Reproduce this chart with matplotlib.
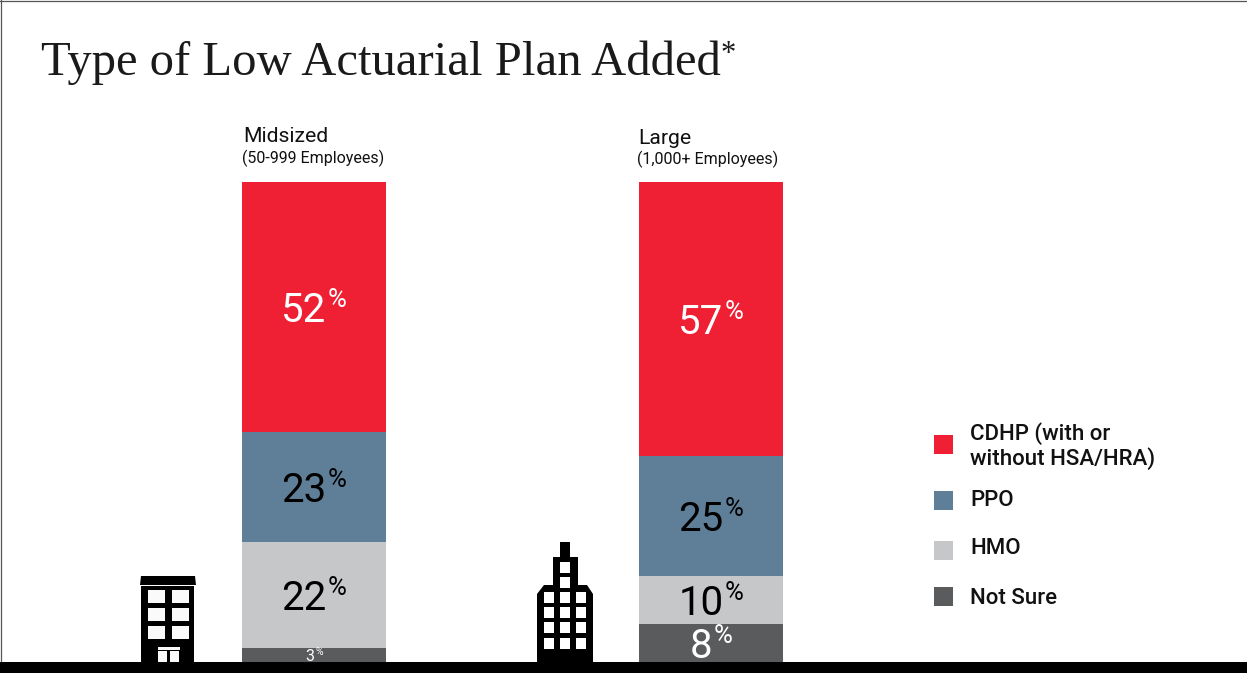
import matplotlib
matplotlib.use("Agg")
import matplotlib.pyplot as plt
from matplotlib.patches import Polygon, Rectangle

W, H = 1247, 673

groups = ["Midsized", "Large"]
group_notes = ["(50-999 Employees)", "(1,000+ Employees)"]
plan_types = ["Not Sure", "HMO", "PPO", "CDHP"]
not_sure = [3, 8]
hmo = [22, 10]
ppo = [23, 25]
cdhp = [52, 57]
legend_labels = ["CDHP (with or\nwithout HSA/HRA)", "PPO", "HMO", "Not Sure"]

RED = "#EF1F34"
BLUE = "#5F7F99"
LIGHT = "#C6C7C9"
DARK = "#5A5B5D"

plt.rcParams["font.family"] = ["Roboto", "DejaVu Sans"]

fig = plt.figure(figsize=(W / 100, H / 100), dpi=100, facecolor="white")

# pixel-space layer for the frame, ground, buildings and legend
bg = fig.add_axes([0, 0, 1, 1])
bg.set_xlim(0, W)
bg.set_ylim(H, 0)
bg.axis("off")

# bars sit on their own axes, 0-100% from ground to top of the column
ax = fig.add_axes([242 / W, (H - 662) / H, 541 / W, 480 / H])
ax.set_xlim(-0.1814, 1.1814)
ax.set_ylim(0, 100)
ax.axis("off")
ax.patch.set_alpha(0)

renderer = fig.canvas.get_renderer()


def rect(x0, y0, x1, y1, color="black", z=2):
    bg.add_patch(Rectangle((x0, y0), x1 - x0, y1 - y0, fc=color, ec="none", zorder=z))


def value_label(x, y, value, color, size=29, sup_size=18.5):
    # number and raised percent sign, centred together over the bar
    num = ax.text(x, y, str(value), ha="left", va="center_baseline", color=color, fontsize=size, zorder=5)
    pct = ax.text(x, y, "%", ha="left", va="center_baseline", color=color, fontsize=sup_size, zorder=5)
    inv = ax.transData.inverted()
    nb = num.get_window_extent(renderer)
    pb = pct.get_window_extent(renderer)
    total = nb.width + pb.width + 1
    x0, y0 = ax.transData.transform((x, y))
    num.set_x(inv.transform((x0 - total / 2, y0))[0])
    pct.set_position(inv.transform((x0 - total / 2 + nb.width + 1, y0 + size * 0.33)))


series = [not_sure, hmo, ppo, cdhp]
colors = [DARK, LIGHT, BLUE, RED]
text_colors = ["white", "black", "black", "white"]
bottoms = [0, 0]
for vals, col, tc in zip(series, colors, text_colors):
    ax.bar(range(len(groups)), vals, width=0.3627, bottom=bottoms, color=col, linewidth=0)
    for i, v in enumerate(vals):
        # the thinnest band only has room for a smaller label
        if v < 5:
            value_label(i, bottoms[i] + v / 2, v, tc, size=11.5, sup_size=7.5)
        else:
            value_label(i, bottoms[i] + v / 2, v, tc)
    bottoms = [b + v for b, v in zip(bottoms, vals)]

# frame and ground
bg.plot([0, W], [1, 1], color="#555555", lw=0.9)
bg.plot([0.8, 0.8], [0, H], color="#555555", lw=0.9)
rect(0, 662, W, H)

# title
title = fig.text(41 / W, 1 - 75 / H, "Type of Low Actuarial Plan Added", family="Liberation Serif",
                 fontsize=35, color="#1a1a1a", ha="left", va="baseline")
tb = title.get_window_extent(renderer)
fig.text(tb.x1 / W - 0.0005, 1 - 62 / H, "*", family="Liberation Serif", fontsize=22,
         color="#1a1a1a", ha="left", va="baseline")

# column headings
head_x = [243, 638]
note_x = [242, 637]
head_y = [142, 144]
note_y = [163, 164]
for i in range(len(groups)):
    bg.text(head_x[i], head_y[i], groups[i], fontsize=15.2, color="#111111", va="baseline")
    bg.text(note_x[i], note_y[i], group_notes[i], fontsize=11.5, color="#111111", va="baseline")

# legend
swatch_y = [435, 491, 541, 587]
text_y = [446, 500, 549, 598]
swatch_colors = [RED, BLUE, LIGHT, DARK]
for sy, ty, col, lab in zip(swatch_y, text_y, swatch_colors, legend_labels):
    rect(934, sy, 953, sy + 19, col)
    bg.text(970, ty, lab, fontsize=16, fontweight="medium", color="#111111", va="center",
            linespacing=1.13)

# low-rise building
bg.add_patch(Polygon([(141, 576), (195, 576), (196, 585), (140, 585)], fc="black", ec="none"))
rect(141, 586, 194, 662)
for wy in [590, 608, 626]:
    for wx in [148, 172]:
        rect(wx, wy, wx + 17, wy + 13, "#fafafa", 3)
rect(158, 647, 180, 650, "#fafafa", 3)
rect(158, 651, 167, 662, "#fafafa", 3)
rect(170, 651, 179, 662, "#fafafa", 3)

# tower
bg.add_patch(Polygon([(560, 542), (570, 542), (570, 557), (578, 557), (578, 585), (587, 585),
                      (593, 594), (593, 662), (537, 662), (537, 594), (544, 585), (553, 585),
                      (553, 557), (560, 557)], fc="black", ec="none"))
for wy in [562, 577]:
    rect(560, wy, 570, wy + 11, "white", 3)
for wy in [592, 607, 622, 638]:
    for wx in [544, 560, 576]:
        rect(wx, wy, wx + 10, wy + 11, "white", 3)

fig.savefig("out.png", dpi=100, facecolor="white")
